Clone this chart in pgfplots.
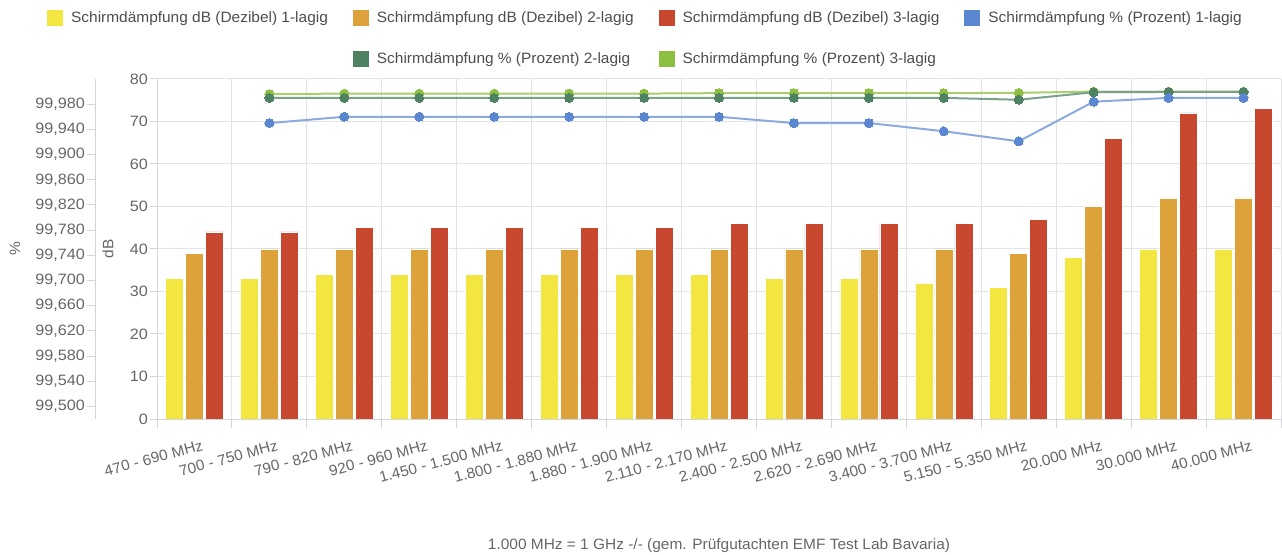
\documentclass[border=0pt]{standalone}
\usepackage{fontspec}
\setmainfont{Liberation Sans}[FakeStretch=1.03]
\newfontfamily\tickfont{Liberation Sans}[FakeStretch=1.08]
\usepackage{pgfplots}
\usepackage{pgfplotstable}
\pgfplotsset{compat=1.18}
\definecolor{cY}{HTML}{F3E641}
\definecolor{cO}{HTML}{DEA23A}
\definecolor{cR}{HTML}{C8472F}
\definecolor{cB}{HTML}{5A86D2}
\definecolor{cDG}{HTML}{4F8263}
\definecolor{cLG}{HTML}{8DBF40}
\definecolor{gridc}{HTML}{E3E3E3}
\definecolor{axisc}{HTML}{D2D6DC}
\definecolor{lbl}{HTML}{666666}
\definecolor{leg}{HTML}{4D4D4D}
\newcommand{\fs}{\fontsize{15bp}{18bp}\selectfont}
\newcommand{\tfs}{\tickfont\fontsize{15bp}{18bp}\selectfont}
\pgfplotsset{sq legend/.style={legend image code/.code={\fill[##1,draw=none] (0bp,-8bp) rectangle (16bp,8bp);}}}

\pgfplotstableread{
x dbA dbB dbC
0 33 39 44
1 33 40 44
2 34 40 45
3 34 40 45
4 34 40 45
5 34 40 45
6 34 40 45
7 34 40 46
8 33 40 46
9 33 40 46
10 32 40 46
11 31 39 47
12 38 50 66
13 40 52 72
14 40 52 73
}\dbdata

\pgfplotstableread{
x pA pB pC
1 99.950 99.990 99.9960
2 99.960 99.990 99.9968
3 99.960 99.990 99.9968
4 99.960 99.990 99.9968
5 99.960 99.990 99.9968
6 99.960 99.990 99.9968
7 99.960 99.990 99.9975
8 99.950 99.990 99.9975
9 99.950 99.990 99.9975
10 99.937 99.990 99.9975
11 99.921 99.987 99.9980
12 99.984 99.999 100.000
13 99.990 99.9994 100.000
14 99.990 99.9994 100.000
}\pdata

\begin{document}
\begin{tikzpicture}
\path[use as bounding box] (0bp,0bp) rectangle (1282bp,555bp);

% main dB axis with bars
\begin{axis}[
  at={(157bp,136bp)}, anchor=south west,
  scale only axis, width=1124bp, height=340bp,
  xmin=-0.5, xmax=14.5, ymin=0, ymax=80,
  ybar=2bp, bar width=18bp,
  axis x line*=bottom, axis y line*=left,
  axis line style={draw=axisc, line width=1bp},
  xtick={0,...,14},
  xticklabels={470 - 690 MHz,700 - 750 MHz,790 - 820 MHz,920 - 960 MHz,1.450 - 1.500 MHz,1.800 - 1.880 MHz,1.880 - 1.900 MHz,2.110 - 2.170 MHz,2.400 - 2.500 MHz,2.620 - 2.690 MHz,3.400 - 3.700 MHz,5.150 - 5.350 MHz,20.000 MHz,30.000 MHz,40.000 MHz},
  minor xtick={-0.5,0.5,...,14.5},
  xminorgrids=true, xmajorgrids=false,
  ytick={0,10,...,80}, ymajorgrids=true,
  grid style={draw=gridc, line width=1bp},
  minor grid style={draw=gridc, line width=1bp},
  major x tick style={draw=none},
  minor x tick style={draw=axisc, line width=1bp},
  major y tick style={draw=axisc, line width=1bp},
  tick align=outside,
  major tick length=7bp, minor tick length=9bp,
  /pgf/number format/assume math mode=true,
  tick label style={font=\tfs, text=lbl},
  xticklabel style={font=\fs, rotate=15, anchor=north east, inner sep=0pt, yshift=-15bp, xshift=3bp},
  yticklabel style={inner sep=2bp},
  ylabel={dB},
  every axis y label/.style={at={(axis description cs:-0.0436,0.5)}, rotate=90, anchor=center, font=\fs, text=lbl},
  xlabel={1.000 MHz = 1 GHz -/- (gem. Prüfgutachten EMF Test Lab Bavaria)},
  every axis x label/.style={at={(axis description cs:0.5,-0.371)}, anchor=center, font=\fs, text=lbl},
  legend columns=4,
  legend cell align=left,
  legend style={at={(axis description cs:-0.0979,1.2029)}, anchor=north west, draw=none, fill=none,
    font=\fs, text=leg, inner sep=0pt, row sep=25bp,
    nodes={inner sep=0pt},
    /tikz/every odd column/.append style={column sep=8bp},
    /tikz/every even column/.append style={column sep=25bp}},
]
\addplot[sq legend, fill=cY, draw=white, line width=0.6bp] table[x=x,y=dbA]{\dbdata};
\addlegendentry{Schirmdämpfung dB (Dezibel) 1-lagig}
\addplot[sq legend, fill=cO, draw=white, line width=0.6bp] table[x=x,y=dbB]{\dbdata};
\addlegendentry{Schirmdämpfung dB (Dezibel) 2-lagig}
\addplot[sq legend, fill=cR, draw=white, line width=0.6bp] table[x=x,y=dbC]{\dbdata};
\addlegendentry{Schirmdämpfung dB (Dezibel) 3-lagig}
\addlegendimage{sq legend, fill=cB}
\addlegendentry{Schirmdämpfung \% (Prozent) 1-lagig}
\addlegendimage{empty legend}
\addlegendentry{}
\addlegendimage{sq legend, fill=cDG}
\addlegendentry{Schirmdämpfung \% (Prozent) 2-lagig}
\addlegendimage{sq legend, fill=cLG}
\addlegendentry{Schirmdämpfung \% (Prozent) 3-lagig}
\end{axis}

% percent lines
\begin{axis}[
  at={(157bp,136bp)}, anchor=south west,
  scale only axis, width=1124bp, height=340bp,
  xmin=-0.5, xmax=14.5, ymin=99.48, ymax=100.02,
  hide axis, clip=false,
]
\addplot[color=cLG!75, line width=2bp, mark=*, mark size=4.5bp, mark options={fill=cLG, draw=cLG, line width=0pt}] table[x=x,y=pC]{\pdata};
\addplot[color=cDG!75, line width=2bp, mark=*, mark size=4.5bp, mark options={fill=cDG, draw=cDG, line width=0pt}] table[x=x,y=pB]{\pdata};
\addplot[color=cB!70, line width=2bp, mark=*, mark size=4.5bp, mark options={fill=cB, draw=cB, line width=0pt}] table[x=x,y=pA]{\pdata};
\end{axis}

% percent scale
\begin{axis}[
  at={(95bp,136bp)}, anchor=south west,
  scale only axis, width=1bp, height=340bp,
  xmin=0, xmax=1, ymin=99.48, ymax=100.02,
  axis x line=none, axis y line*=left,
  axis line style={draw=axisc, line width=1bp},
  xtick=\empty,
  ytick={99.50,99.54,99.58,99.62,99.66,99.70,99.74,99.78,99.82,99.86,99.90,99.94,99.98},
  major y tick style={draw=axisc, line width=1bp},
  tick align=outside, major tick length=8bp,
  /pgf/number format/assume math mode=true,
  tick label style={font=\tfs, text=lbl},
  yticklabel style={inner sep=2bp, /pgf/number format/.cd, fixed, fixed zerofill, precision=3, use comma},
  ylabel={\%},
  every axis y label/.style={at={(axis description cs:-80,0.5)}, rotate=90, anchor=center, font=\fs, text=lbl},
]
\addplot[draw=none] coordinates {(0,99.5)};
\end{axis}
\end{tikzpicture}
\end{document}
